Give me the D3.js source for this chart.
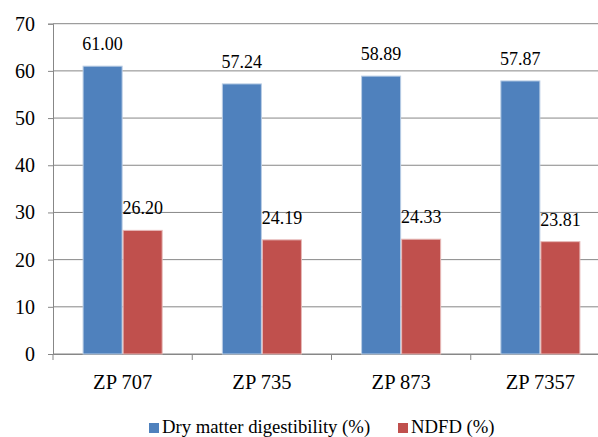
<!DOCTYPE html>
<html>
<head>
<meta charset="utf-8">
<script src="https://cdn.jsdelivr.net/npm/d3@7"></script>
</head>
<body style="margin:0">
<svg id="chart" width="598" height="437"></svg>
<script>
// data
const categories = ["ZP 707", "ZP 735", "ZP 873", "ZP 7357"];
const seriesNames = ["Dry matter digestibility (%)", "NDFD (%)"];
const dryMatter = [61.00, 57.24, 58.89, 57.87];
const ndfd = [26.20, 24.19, 24.33, 23.81];
const yTicks = [0, 10, 20, 30, 40, 50, 60, 70];
const colors = ["#4F81BD", "#C0504D"];
const strokes = ["#B9CDE5", "#E6B9B8"];

const FONT = "Liberation Serif";
const plot = { left: 53, right: 610, top: 23.7, bottom: 354 };

const svg = d3.select("#chart");

const series = [dryMatter, ndfd];
const rows = categories.map((c, i) => ({
  cat: c,
  vals: series.map((s, j) => ({ key: j, value: s[i] }))
}));

// scales
const x0 = d3.scaleBand()
  .domain(categories)
  .range([plot.left, plot.right])
  .paddingInner(0.425)
  .paddingOuter(0.2125);

const x1 = d3.scaleBand()
  .domain([0, 1])
  .range([0, x0.bandwidth()]);

const y = d3.scaleLinear()
  .domain([0, 70])
  .range([plot.bottom, plot.top]);

// grid
svg.append("g")
  .selectAll("line")
  .data(yTicks)
  .join("line")
    .attr("x1", plot.left)
    .attr("x2", plot.right)
    .attr("y1", d => y(d))
    .attr("y2", d => y(d))
    .attr("stroke", "#878787")
    .attr("stroke-width", 1);

// y axis
const yAxis = svg.append("g")
  .attr("transform", `translate(${plot.left},0)`)
  .call(d3.axisLeft(y).tickValues(yTicks).tickSize(5).tickPadding(13).tickFormat(d3.format("d")))
  .attr("font-family", null)
  .attr("font-size", null);
yAxis.select(".domain").attr("stroke", "#878787");
yAxis.selectAll(".tick line").attr("stroke", "#878787");
yAxis.selectAll(".tick text")
  .attr("fill", "#000")
  .style("font-family", FONT)
  .style("font-size", "20px");

// x axis
const xAxis = svg.append("g")
  .attr("transform", `translate(0,${plot.bottom})`)
  .call(d3.axisBottom(x0).tickSize(0).tickPadding(20))
  .attr("font-family", null)
  .attr("font-size", null);
xAxis.select(".domain").attr("stroke", "#878787");
xAxis.selectAll(".tick text")
  .attr("fill", "#000")
  .style("font-family", FONT)
  .style("font-size", "20.5px");

// category separator ticks
const sep = categories.map(c => x0(c) - x0.step() * x0.paddingInner() / 2)
  .concat([plot.right]);
svg.append("g")
  .selectAll("line")
  .data(sep)
  .join("line")
    .attr("x1", d => d)
    .attr("x2", d => d)
    .attr("y1", plot.bottom)
    .attr("y2", plot.bottom + 6)
    .attr("stroke", "#878787");

// bars
const groups = svg.append("g")
  .selectAll("g")
  .data(rows)
  .join("g")
    .attr("transform", d => `translate(${x0(d.cat)},0)`);

groups.selectAll("rect")
  .data(d => d.vals)
  .join("rect")
    .attr("x", d => x1(d.key) + 0.5)
    .attr("y", d => y(d.value))
    .attr("width", x1.bandwidth() - 1)
    .attr("height", d => y(0) - y(d.value))
    .attr("fill", d => colors[d.key])
    .attr("stroke", d => strokes[d.key])
    .attr("stroke-width", 1);

groups.selectAll("text")
  .data(d => d.vals)
  .join("text")
    .attr("x", d => x1(d.key) + x1.bandwidth() / 2)
    .attr("y", d => y(d.value) - 16)
    .attr("text-anchor", "middle")
    .style("font-family", FONT)
    .style("font-size", "18px")
    .text(d => d.value.toFixed(2));

// legend
const legendItems = [
  { name: seriesNames[0], color: colors[0], x: 149 },
  { name: seriesNames[1], color: colors[1], x: 398 }
];
const legend = svg.append("g")
  .selectAll("g")
  .data(legendItems)
  .join("g")
    .attr("transform", d => `translate(${d.x},423)`);
legend.append("rect")
  .attr("width", 10)
  .attr("height", 10)
  .attr("fill", d => d.color);
legend.append("text")
  .attr("x", 13)
  .attr("y", 10)
  .style("font-family", FONT)
  .style("font-size", "18.7px")
  .text(d => d.name);
</script>
</body>
</html>
